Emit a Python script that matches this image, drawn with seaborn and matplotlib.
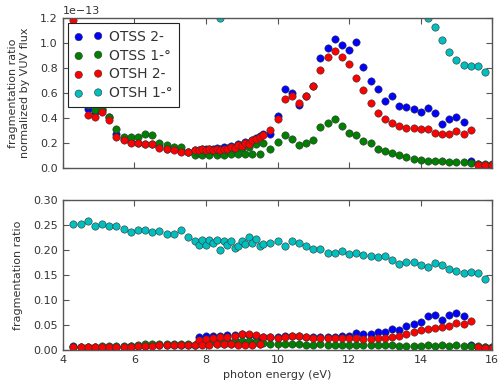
import numpy as np
import pandas as pd
import seaborn as sns
import matplotlib
matplotlib.use("Agg")
import matplotlib.pyplot as plt
from matplotlib.ticker import FormatStrFormatter, MultipleLocator

# ================= DATA =================
# photon energy (eV): 0.2 eV steps, a denser 0.1 eV scan 7.8-9.6, then 0.2 eV again
energy = [4.3, 4.5, 4.7, 4.9, 5.1, 5.3, 5.5, 5.7, 5.9, 6.1, 6.3, 6.5, 6.7, 6.9, 7.1, 7.3, 7.5, 7.7,
          7.8, 7.9, 8.0, 8.1, 8.2, 8.3, 8.4, 8.5, 8.6, 8.7, 8.8, 8.9, 9.0, 9.1, 9.2, 9.3, 9.4, 9.5, 9.6,
          9.8, 10.0, 10.2, 10.4, 10.6, 10.8, 11.0, 11.2, 11.4, 11.6, 11.8, 12.0, 12.2, 12.4, 12.6,
          12.8, 13.0, 13.2, 13.4, 13.6, 13.8, 14.0, 14.2, 14.4, 14.6, 14.8, 15.0, 15.2, 15.4, 15.6,
          15.8, 16.0]

LABELS = ["OTSS 2-", "OTSS 1-°", "OTSH 2-", "OTSH 1-°"]
COLORS = ["#0000ff", "#008000", "#ff0000", "#00bfbf"]

# normalized by VUV flux, in units of 1e-13
otss2_norm = [1.05, 0.62, 0.47, 0.445, 0.46, 0.41, 0.27, 0.23, 0.21, 0.20, 0.19, 0.19, 0.17, 0.155, 0.15, 0.135, 0.125, 0.14,
              0.14, 0.15, 0.15, 0.155, 0.15, 0.16, 0.155, 0.165, 0.16, 0.175, 0.17, 0.19, 0.185, 0.205, 0.20, 0.225, 0.24, 0.255, 0.27,
              0.272, 0.413, 0.632, 0.60, 0.504, 0.573, 0.653, 0.877, 0.96, 1.032, 0.987, 0.947, 1.005, 0.811, 0.699,
              0.632, 0.539, 0.579, 0.493, 0.49, 0.472, 0.445, 0.483, 0.44, 0.352, 0.392, 0.405, 0.368, 0.053, 0.03,
              0.025, 0.025]
otss1_norm = [0.95, 0.60, 0.50, 0.46, 0.47, 0.41, 0.31, 0.25, 0.25, 0.25, 0.27, 0.26, 0.20, 0.18, 0.17, 0.17, 0.125, 0.10,
              0.12, 0.10, 0.13, 0.10, 0.135, 0.10, 0.13, 0.10, 0.14, 0.11, 0.15, 0.11, 0.16, 0.11, 0.17, 0.11, 0.19, 0.11, 0.20,
              0.152, 0.205, 0.267, 0.232, 0.187, 0.20, 0.227, 0.325, 0.36, 0.392, 0.339, 0.28, 0.264, 0.213, 0.20,
              0.155, 0.133, 0.117, 0.104, 0.088, 0.075, 0.067, 0.059, 0.053, 0.053, 0.051, 0.045, 0.045, 0.04, 0.035,
              0.035, 0.035]
otsh2_norm = [1.18, 0.55, 0.424, 0.405, 0.45, 0.38, 0.25, 0.22, 0.20, 0.20, 0.19, 0.19, 0.16, 0.15, 0.145, 0.13, 0.125, 0.14,
              0.145, 0.15, 0.145, 0.15, 0.14, 0.15, 0.145, 0.155, 0.15, 0.165, 0.16, 0.18, 0.175, 0.20, 0.195, 0.22, 0.235, 0.25, 0.265,
              0.307, 0.392, 0.552, 0.573, 0.517, 0.579, 0.653, 0.784, 0.888, 0.933, 0.888, 0.832, 0.717, 0.627, 0.517,
              0.44, 0.392, 0.36, 0.333, 0.323, 0.317, 0.312, 0.312, 0.28, 0.272, 0.27, 0.299, 0.272, 0.304, 0.027,
              0.024, 0.024]
# mostly off the top of the panel (estimated)
otsh1_norm = [4.2, 4.0, 3.8, 3.6, 3.4, 3.2, 3.0, 2.8, 2.6, 2.5, 2.4, 2.3, 2.2, 2.1, 2.0, 1.9, 1.8, 1.6,
              1.5, 1.45, 1.4, 1.4, 1.35, 1.3, 1.2, 1.3, 1.3, 1.35, 1.3, 1.35, 1.4, 1.4, 1.45, 1.5, 1.55, 1.6, 1.6,
              1.7, 2.0, 2.5, 2.5, 2.3, 2.5, 2.7, 3.2, 3.4, 3.5, 3.3, 3.1, 3.0, 2.6, 2.3,
              2.1, 1.9, 1.8, 1.6, 1.5, 1.4, 1.3, 1.197, 1.125, 1.027, 0.925, 0.867, 0.827, 0.819, 0.813,
              0.771, np.nan]

# raw fragmentation ratios
otss2_ratio = [0.007, 0.006, 0.006, 0.006, 0.006, 0.006, 0.006, 0.006, 0.007, 0.008, 0.008, 0.009, 0.009, 0.010, 0.010, 0.010, 0.009, 0.010,
               0.025, 0.012, 0.027, 0.012, 0.028, 0.013, 0.028, 0.013, 0.029, 0.013, 0.030, 0.014, 0.031, 0.014, 0.030, 0.014, 0.028, 0.015, 0.026,
               0.026, 0.025, 0.027, 0.028, 0.027, 0.026, 0.025, 0.026, 0.025, 0.026, 0.027, 0.028, 0.033, 0.032, 0.032,
               0.035, 0.035, 0.042, 0.040, 0.047, 0.051, 0.055, 0.068, 0.069, 0.059, 0.070, 0.074, 0.068, 0.010, 0.006,
               0.005, 0.005]
otss1_ratio = [0.006, 0.006, 0.006, 0.006, 0.007, 0.007, 0.007, 0.007, 0.008, 0.010, 0.012, 0.012, 0.012, 0.012, 0.012, 0.012, 0.011, 0.009,
               0.016, 0.011, 0.017, 0.012, 0.017, 0.012, 0.016, 0.012, 0.017, 0.012, 0.018, 0.012, 0.018, 0.012, 0.018, 0.012, 0.016, 0.012, 0.014,
               0.012, 0.011, 0.012, 0.011, 0.011, 0.010, 0.010, 0.011, 0.010, 0.010, 0.010, 0.009, 0.010, 0.009, 0.010,
               0.009, 0.009, 0.009, 0.008, 0.008, 0.008, 0.008, 0.009, 0.008, 0.009, 0.008, 0.009, 0.008, 0.007, 0.007,
               0.006, 0.006]
otsh2_ratio = [0.005, 0.005, 0.005, 0.005, 0.005, 0.005, 0.005, 0.006, 0.006, 0.007, 0.008, 0.008, 0.009, 0.009, 0.009, 0.009, 0.009, 0.010,
               0.019, 0.010, 0.022, 0.010, 0.024, 0.011, 0.025, 0.011, 0.026, 0.011, 0.028, 0.010, 0.031, 0.010, 0.032, 0.010, 0.029, 0.011, 0.026,
               0.025, 0.023, 0.025, 0.027, 0.027, 0.025, 0.023, 0.023, 0.023, 0.023, 0.023, 0.023, 0.023, 0.022, 0.022,
               0.023, 0.023, 0.025, 0.027, 0.031, 0.035, 0.039, 0.042, 0.043, 0.045, 0.048, 0.053, 0.052, 0.058, 0.005,
               0.004, 0.004]
otsh1_ratio = [0.251, 0.251, 0.257, 0.248, 0.251, 0.248, 0.247, 0.241, 0.235, 0.240, 0.239, 0.235, 0.237, 0.231, 0.231, 0.239, 0.225, 0.217,
               0.210, 0.220, 0.210, 0.220, 0.213, 0.219, 0.200, 0.217, 0.210, 0.217, 0.203, 0.208, 0.217, 0.211, 0.225, 0.213, 0.222, 0.207, 0.211,
               0.213, 0.217, 0.208, 0.218, 0.213, 0.208, 0.202, 0.202, 0.193, 0.194, 0.198, 0.191, 0.193, 0.190, 0.187,
               0.185, 0.188, 0.180, 0.171, 0.175, 0.175, 0.169, 0.165, 0.173, 0.170, 0.161, 0.157, 0.153, 0.155, 0.154,
               0.141, np.nan]
# =========================================

norm_series = [otss2_norm, otss1_norm, otsh2_norm, otsh1_norm]
ratio_series = [otss2_ratio, otss1_ratio, otsh2_ratio, otsh1_ratio]

sns.set_style("ticks")
plt.rcParams["font.family"] = ["DejaVu Sans"]
plt.rcParams["text.color"] = "#333333"
plt.rcParams["axes.labelcolor"] = "#333333"
plt.rcParams["xtick.color"] = "#555555"
plt.rcParams["ytick.color"] = "#555555"
plt.rcParams["xtick.labelcolor"] = "#333333"
plt.rcParams["ytick.labelcolor"] = "#333333"

fig, (ax1, ax2) = plt.subplots(2, 1, sharex=True, figsize=(5.03, 3.90), dpi=100)
fig.subplots_adjust(left=0.1247, right=0.9787, top=0.954, bottom=0.103, hspace=0.213)

marker_kw = dict(s=28, edgecolor="#333333", linewidth=0.4)

for vals, color, label in zip(norm_series, COLORS, LABELS):
    sns.scatterplot(x=energy, y=vals, color=color, label=label, ax=ax1, **marker_kw)

for vals, color, label in zip(ratio_series, COLORS, LABELS):
    sns.scatterplot(x=energy, y=vals, color=color, ax=ax2, legend=False, **marker_kw)

# --------------------------------------------------
# Axes styling (old matplotlib look)
# --------------------------------------------------
ax1.set_xlim(4, 16)
ax1.set_ylim(0, 1.2)
ax1.yaxis.set_major_locator(MultipleLocator(0.2))
ax1.yaxis.set_major_formatter(FormatStrFormatter("%.1f"))
ax1.text(0.0, 1.012, "1e\u221213", transform=ax1.transAxes, fontsize=8,
         ha="left", va="bottom", color="#333333")
ax2.set_ylim(0, 0.30)
ax2.yaxis.set_major_locator(MultipleLocator(0.05))
ax2.yaxis.set_major_formatter(FormatStrFormatter("%.2f"))
ax2.xaxis.set_major_locator(MultipleLocator(2))

for ax in (ax1, ax2):
    ax.tick_params(direction="in", top=True, right=True, length=4, width=0.8, labelsize=8)
    for sp in ax.spines.values():
        sp.set_color("#555555")
        sp.set_linewidth(1.0)

ax1.set_ylabel("fragmentation ratio\nnormalized by VUV flux", fontsize=8)
ax2.set_ylabel("fragmentation ratio", fontsize=8)
ax2.set_xlabel("photon energy (eV)", fontsize=8)
ax1.yaxis.set_label_coords(-0.076, 0.5)
ax2.yaxis.set_label_coords(-0.093, 0.5)

leg = ax1.legend(loc="upper left", scatterpoints=2, fontsize=10, fancybox=False,
                 framealpha=1, edgecolor="#222222", borderaxespad=0.4,
                 labelspacing=0.35, handletextpad=0.5, borderpad=0.45)
leg.get_frame().set_linewidth(0.8)

fig.savefig("out.png", dpi=100)
